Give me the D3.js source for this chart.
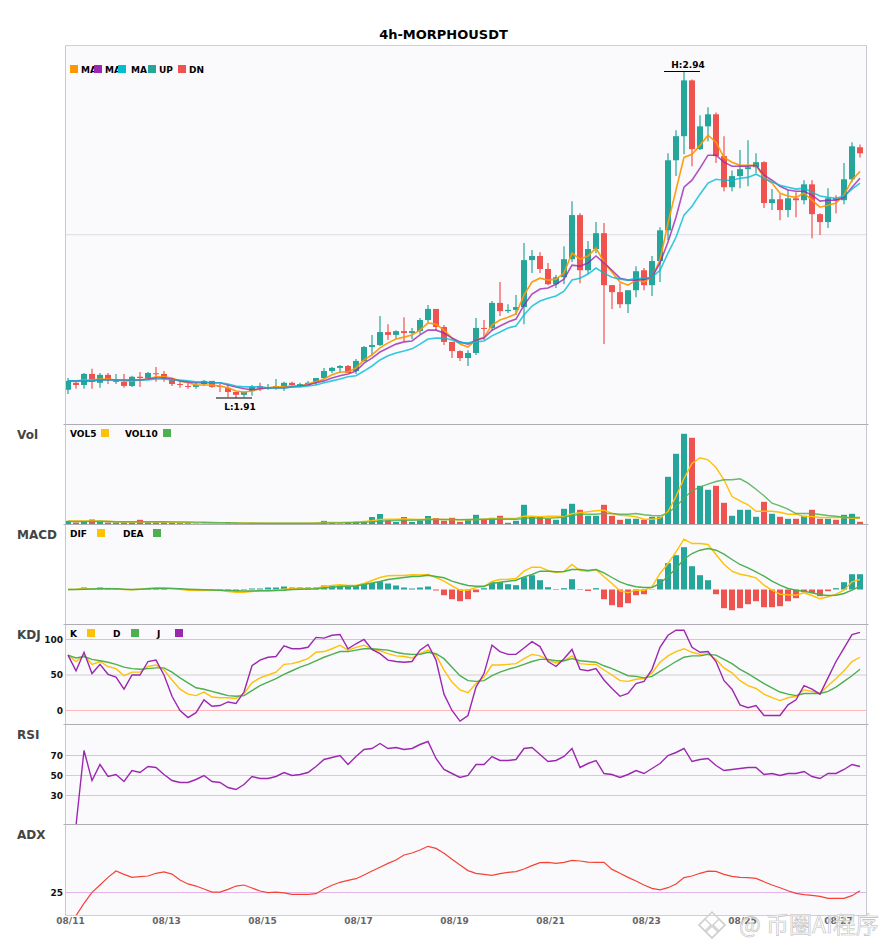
<!DOCTYPE html>
<html>
<head>
<meta charset="utf-8">
<script src="https://cdn.jsdelivr.net/npm/d3@7"></script>
<style>
  html, body { margin: 0; padding: 0; background: #fff; }
  text { font-family: "DejaVu Sans", sans-serif; }
</style>
</head>
<body>
<div id="scene"></div>
<script>
var title = "4h-MORPHOUSDT";
var tickBars = [0, 12, 24, 36, 48, 60, 72, 84, 96];
var tickDates = ["08/11", "08/13", "08/15", "08/17", "08/19", "08/21", "08/23", "08/25", "08/27"];

// open, high, low, close
var ohlc = [
  [1.936,1.973,1.923,1.964],[1.958,1.967,1.939,1.951],[1.951,1.989,1.939,1.986],[1.986,2.002,1.939,1.961],[1.958,1.989,1.942,1.983],
  [1.983,1.989,1.954,1.967],[1.961,1.986,1.954,1.964],[1.961,1.986,1.942,1.948],[1.948,1.980,1.945,1.977],[1.977,1.992,1.945,1.973],
  [1.973,1.992,1.970,1.989],[1.988,2.008,1.961,1.985],[1.986,1.995,1.961,1.970],[1.967,1.973,1.948,1.954],[1.954,1.961,1.942,1.951],
  [1.948,1.958,1.939,1.945],[1.945,1.958,1.939,1.951],[1.954,1.967,1.948,1.964],[1.964,1.964,1.942,1.945],[1.948,1.954,1.929,1.945],
  [1.942,1.954,1.912,1.929],[1.929,1.929,1.910,1.920],[1.920,1.929,1.912,1.929],[1.932,1.951,1.917,1.945],[1.948,1.958,1.932,1.942],
  [1.941,1.954,1.936,1.942],[1.942,1.970,1.936,1.948],[1.945,1.961,1.932,1.958],[1.958,1.961,1.945,1.951],[1.948,1.958,1.945,1.954],
  [1.951,1.964,1.948,1.958],[1.961,1.973,1.951,1.973],[1.973,2.005,1.970,1.995],[1.995,2.008,1.989,2.005],[2.005,2.014,1.989,2.011],
  [2.011,2.014,1.989,1.989],[1.995,2.033,1.986,2.027],[2.027,2.074,2.024,2.071],[2.071,2.109,2.043,2.077],[2.077,2.169,2.074,2.118],
  [2.118,2.143,2.093,2.109],[2.109,2.124,2.096,2.121],[2.121,2.165,2.090,2.115],[2.115,2.131,2.096,2.121],[2.121,2.162,2.112,2.156],
  [2.156,2.203,2.150,2.191],[2.191,2.191,2.124,2.134],[2.134,2.140,2.077,2.087],[2.087,2.087,2.036,2.058],[2.058,2.061,2.027,2.036],
  [2.036,2.061,2.011,2.052],[2.052,2.162,2.046,2.131],[2.131,2.156,2.093,2.128],[2.131,2.216,2.124,2.210],[2.210,2.276,2.169,2.184],
  [2.184,2.206,2.178,2.188],[2.188,2.235,2.172,2.197],[2.197,2.399,2.143,2.345],[2.345,2.377,2.304,2.358],[2.358,2.370,2.304,2.317],
  [2.317,2.336,2.266,2.269],[2.269,2.298,2.257,2.291],[2.291,2.389,2.269,2.348],[2.348,2.531,2.339,2.487],[2.487,2.493,2.272,2.313],
  [2.313,2.405,2.301,2.380],[2.380,2.465,2.367,2.430],[2.430,2.462,2.080,2.266],[2.266,2.266,2.191,2.244],[2.244,2.272,2.194,2.206],
  [2.206,2.250,2.178,2.250],[2.250,2.326,2.228,2.310],[2.313,2.320,2.250,2.266],[2.266,2.358,2.232,2.342],[2.342,2.449,2.276,2.439],
  [2.439,2.682,2.408,2.660],[2.660,2.755,2.610,2.736],[2.736,2.940,2.679,2.912],[2.912,2.915,2.641,2.695],[2.695,2.802,2.692,2.767],
  [2.767,2.827,2.720,2.805],[2.805,2.811,2.651,2.673],[2.673,2.736,2.562,2.575],[2.575,2.628,2.562,2.610],[2.610,2.692,2.572,2.632],
  [2.632,2.723,2.578,2.638],[2.638,2.682,2.619,2.654],[2.654,2.657,2.509,2.525],[2.525,2.569,2.503,2.537],[2.537,2.553,2.471,2.503],
  [2.503,2.566,2.480,2.540],[2.540,2.559,2.480,2.534],[2.534,2.597,2.521,2.584],[2.584,2.597,2.414,2.490],[2.490,2.493,2.424,2.465],
  [2.465,2.572,2.446,2.540],[2.540,2.550,2.493,2.534],[2.534,2.651,2.521,2.600],[2.600,2.717,2.591,2.704],[2.701,2.710,2.669,2.682]
];

var maFast = [
  1.964,1.964,1.967,1.967,1.970,1.970,1.967,1.964,1.964,1.967,
  1.970,1.977,1.977,1.973,1.964,1.958,1.951,1.951,1.951,1.948,
  1.942,1.932,1.929,1.932,1.939,1.942,1.945,1.945,1.948,1.948,
  1.954,1.961,1.970,1.983,1.992,1.992,2.005,2.030,2.046,2.068,
  2.084,2.096,2.102,2.109,2.124,2.147,2.143,2.124,2.099,2.080,
  2.071,2.093,2.102,2.140,2.156,2.165,2.175,2.235,2.276,2.288,
  2.282,2.285,2.304,2.367,2.348,2.358,2.383,2.339,2.307,2.276,
  2.266,2.282,2.276,2.291,2.345,2.462,2.566,2.669,2.679,2.707,
  2.739,2.717,2.669,2.654,2.644,2.644,2.644,2.606,2.588,2.556,
  2.547,2.543,2.556,2.534,2.512,2.518,2.525,2.550,2.597,2.625
];
var maMid = [
  1.964,1.964,1.964,1.964,1.967,1.967,1.967,1.967,1.967,1.967,
  1.970,1.973,1.973,1.970,1.964,1.961,1.958,1.958,1.958,1.958,
  1.951,1.945,1.939,1.936,1.939,1.942,1.942,1.942,1.945,1.948,
  1.951,1.958,1.964,1.973,1.980,1.986,1.995,2.020,2.036,2.055,
  2.068,2.080,2.087,2.090,2.109,2.124,2.124,2.115,2.099,2.087,
  2.080,2.093,2.099,2.124,2.137,2.150,2.159,2.203,2.238,2.254,
  2.257,2.269,2.285,2.329,2.326,2.336,2.358,2.336,2.313,2.288,
  2.282,2.282,2.285,2.291,2.336,2.402,2.480,2.575,2.597,2.635,
  2.676,2.676,2.654,2.641,2.641,2.641,2.644,2.613,2.597,2.578,
  2.566,2.562,2.562,2.550,2.531,2.534,2.534,2.543,2.575,2.603
];
var maSlow = [
  1.964,1.964,1.964,1.964,1.967,1.967,1.967,1.967,1.967,1.967,
  1.967,1.970,1.970,1.967,1.967,1.964,1.961,1.961,1.958,1.958,
  1.954,1.948,1.945,1.945,1.945,1.942,1.942,1.942,1.945,1.945,
  1.948,1.951,1.958,1.964,1.970,1.977,1.980,1.995,2.011,2.030,
  2.043,2.052,2.058,2.065,2.080,2.096,2.099,2.099,2.093,2.084,
  2.084,2.087,2.090,2.106,2.118,2.131,2.137,2.172,2.200,2.216,
  2.225,2.232,2.247,2.282,2.288,2.301,2.320,2.304,2.291,2.285,
  2.282,2.288,2.288,2.291,2.313,2.367,2.417,2.487,2.515,2.553,
  2.588,2.600,2.597,2.597,2.603,2.606,2.616,2.603,2.591,2.581,
  2.575,2.569,2.572,2.559,2.547,2.543,2.540,2.547,2.569,2.588
];

var volume = [
  3.7,2,3.5,5,3,2,2,2,2,4.7,
  2,2,2,2,1.5,1.5,1,1,1.5,1,
  2.5,1,1,1,1,1,1,1,1,1,
  1,1,3.6,2.5,1,1.5,3,3,7.5,10.5,
  4,2.5,7.5,2.5,4,8.5,6.5,3.7,6.7,2.7,
  4.7,9.7,4.7,6.7,8.7,1.7,3.7,19.7,7.7,7.7,
  5.7,4.7,15.7,20.7,14.7,8.7,8.7,19.7,8.7,4.7,
  5.7,5.7,4.7,7.7,7.7,47.7,70.7,90.7,86.7,38.7,
  34.7,38.7,21.7,8.7,14.7,14.7,7.7,22.7,10.7,7.7,
  5.7,5.7,8.7,14.7,5.7,5.7,4.7,9.7,10.7,2.7
];
var vol5 = [
  3.5,3.5,3.5,3.6,3.5,3.3,2.8,2.5,2.3,2.8,
  2.6,2.5,2.5,2.3,2,1.8,1.6,1.4,1.3,1.3,
  1.5,1.5,1.5,1.5,1.3,1.2,1.2,1.2,1.2,1.2,
  1.2,1.5,2,2,2,2.2,2.3,3,3.7,5,
  5.3,5.3,5.5,5.3,5,5.2,5.4,5,5,4.7,
  4.7,5,5.3,5.7,6,6,6,8.3,8.3,7.7,
  8.3,8.3,7.7,10.7,11.7,12.7,13.7,14.3,11,9.3,
  8.7,7.7,5.3,5.3,6.3,13,28,46,61,66.7,
  64.7,57,44.7,28,23.7,19.7,13.3,13.3,13.3,12.3,
  10.3,10.3,8,8,7,7,7,7.3,6.3,6.3
];
var vol10 = [
  3,3,3,3,3.2,3,2.8,2.8,2.8,2.8,
  2.7,2.7,2.7,2.6,2.6,2.5,2.4,2.2,2,1.9,
  1.7,1.5,1.4,1.3,1.3,1.3,1.2,1.2,1.2,1.2,
  1.2,1.3,1.5,1.6,1.6,1.7,1.8,2.2,2.6,3.2,
  3.8,4,4.2,4.3,4.5,4.8,5,5,5,4.7,
  5,5,5.2,5.2,5.5,5.3,5.3,6,6.7,6.3,
  6.3,6.7,7.3,9,10.3,10.3,10.3,11,11,10.3,
  10.3,11,9.7,9,8.7,11.3,18,26.3,34,37.3,
  40.3,43,44.7,44.7,45.7,41.3,35.3,28.7,21.3,18.7,
  15.3,11,11,11,10,9,8.3,7.3,7,7
];

var macdHist = [
  0,0.3,2,0.3,2,0.7,0.5,-0.3,-0.3,0.3,
  1,0.7,0.7,0,-0.3,-0.5,-0.5,-0.3,-1,-1,
  -2,-2,-0.5,1,1,2,2,3,2,2,
  2,2,4,4,4,2.5,3.5,6,6.5,8,
  6,4,2,1,2,3,-1,-5.7,-9.7,-11.7,
  -9.7,-2.7,1.3,7.3,7.3,5.3,4.3,12.3,14.3,9.3,
  2.3,-0.5,1.3,10.3,-0.5,-1.5,1.3,-9.7,-15.7,-17.7,
  -13.7,-5.7,-4.7,0.3,10.3,26.3,34.3,42.3,23.3,14.3,
  9.3,-4.7,-18.7,-20.7,-18.7,-14.7,-11.7,-17.7,-17.7,-16.7,
  -11.7,-8.7,-2.7,-3.7,-6.7,-1.7,1.3,7.3,15.3,15.3
];
var dif = [
  0,0.3,1,0.3,1,1,0.7,0,-0.3,0.3,
  1,1.7,1.7,1,0.3,-0.7,-1,-1,-0.7,-0.7,
  -2,-2.7,-2.7,-2,-1.3,-1.3,-0.7,0.3,0.7,1,
  0.7,1,3,4,4.7,4,4,6,9,12,
  13.7,14,14,14.7,14.5,15,12,8.3,3.7,-0.7,
  -0.7,2,2.7,8,10,10.3,11,18.3,22.3,22.3,
  19,17,18,25,19,18.3,20,12.7,6,-1.3,
  -3.3,-0.7,-1,2.7,16,26,37.7,50.3,46,46,
  45,35,25.3,18.3,15.3,13.7,11.7,4.3,-0.7,-4.7,
  -5.3,-5.7,-3.3,-6,-9.3,-7.3,-4.7,-0.7,7.7,10
];
var dea = [
  0,0,0.3,0.5,0.7,0.7,0.7,0.3,0,0.3,
  0.7,1,1,1,0.7,0.3,0,-0.3,-0.5,-0.7,
  -1,-1.3,-1.5,-1.5,-1.3,-1.3,-1,-0.7,0,0.3,
  0.5,0.7,1.5,2.3,3,3.2,3.5,5,6.5,8,
  10,11,12,13,13.3,14.3,13,11.7,8.3,6,
  4,3.3,3.3,6,7.3,8.3,9.3,12.7,15,18.3,
  18.3,17.7,18,20,20,19,20,16.7,12,7.7,
  4.7,2.7,2,2,6,13.3,21,30.3,36,39.3,
  41,39.3,35.3,30,25,21.7,17.7,13.3,8.3,4.3,
  1,-0.7,-1.7,-3.3,-5.3,-6,-5.7,-4,-0.7,3.3
];

var kLine = [
  78,69,78,65,69,62,59,49,54,54,
  62,64,57,43,30,23,21,26,19,18,
  18,17,24,39,46,50,54,65,66,69,
  73,82,83,87,92,85,89,92,86,84,
  80,77,76,74,80,85,78,57,40,29,
  25,38,47,64,64,65,66,73,79,77,
  71,67,70,77,66,65,65,57,50,42,
  41,44,45,53,68,77,83,87,82,79,
  80,72,60,53,42,35,31,23,18,14,
  18,20,29,27,24,35,45,56,69,75
];
var dLine = [
  78,74,76,72,70,68,65,61,59,58,
  59,60,60,54,46,39,32,30,27,24,
  21,20,21,28,35,40,45,51,56,61,
  65,70,75,79,83,83,85,87,87,86,
  85,82,80,79,79,82,80,73,61,49,
  42,41,42,49,54,58,61,65,69,72,
  72,70,70,73,70,69,68,63,59,54,
  49,48,46,48,55,62,69,75,77,77,
  79,78,72,66,58,52,45,38,32,26,
  23,21,24,24,24,27,33,41,49,58
];
var jLine = [
  78,56,82,52,65,51,47,30,50,50,
  69,71,50,20,0,-10,-3,15,6,7,
  12,10,26,63,71,75,76,91,87,87,
  89,103,102,106,107,87,94,100,86,80,
  71,69,68,69,85,93,71,23,0,-15,
  -7,33,52,92,83,79,79,88,97,90,
  69,62,73,86,58,56,59,43,31,20,
  24,38,41,58,89,106,113,113,89,82,
  83,69,42,30,8,4,7,-7,-7,-7,
  8,15,35,30,23,46,69,88,107,110
];
var rsi = [
  0,0,75,45,61,49,51,44,55,53,
  59,58,51,45,43,43,46,50,44,43,
  38,36,41,49,47,47,49,53,50,51,
  53,59,66,68,70,61,69,76,77,82,
  77,78,76,77,81,84,67,56,52,48,
  50,61,61,69,65,65,66,77,78,71,
  64,65,69,77,58,62,65,52,51,48,
  51,55,52,57,62,70,73,77,64,66,
  67,60,55,56,57,58,58,51,52,50,
  52,52,54,49,47,52,52,56,61,59
];
var adx = [
  6.7,9.6,17.8,25.1,30,35.1,39.3,37.1,35.1,35.6,
  36,37.8,38.7,37.3,33.3,30.7,29.3,27.3,25.3,25.3,
  27.1,29.3,30,28,26,24.9,25.3,24.7,23.8,23.8,
  23.8,24.2,27.3,29.8,31.8,33.1,34.2,36.7,39.3,41.8,
  44.4,46.7,50,51.3,53.3,55.8,54.4,51.1,47.1,43.3,
  39.6,37.8,37.1,36.4,37.6,38.4,38.9,40.7,42.9,44.9,
  45.1,44.4,45.1,46.4,46,45.3,45.1,45.1,40.4,37.8,
  35.1,32.7,30,27.8,26.7,28.2,30.7,34.9,36,37.8,
  39.3,39.1,37.1,35.8,35.1,34.9,34.4,32.2,30,28.2,
  26.2,24.4,23.6,23.1,22.4,21.1,21.1,21.1,22.9,26.2
];

var colors = {
  up: "#26a69a", dn: "#ef5350",
  maFast: "#ff9800", maMid: "#9c27b0", maSlow: "#00bcd4",
  yellow: "#ffc107", green: "#4caf50", purple: "#9c27b0", adx: "#f44336"
};

var W = 885, H = 950, left = 65.5, right = 866.5;

var svg = d3.select("#scene").append("svg")
  .attr("width", W).attr("height", H)
  .style("display", "block");

var x = d3.scaleLinear().domain([0, ohlc.length - 1]).range([68, 860]);

// panels, top to bottom
var panels = [
  { id: "main", top: 45.5, bottom: 424.5, label: "" },
  { id: "vol", top: 424.5, bottom: 524.5, label: "Vol" },
  { id: "macd", top: 524.5, bottom: 624.5, label: "MACD" },
  { id: "kdj", top: 624.5, bottom: 724.5, label: "KDJ" },
  { id: "rsi", top: 724.5, bottom: 824.5, label: "RSI" },
  { id: "adx", top: 824.5, bottom: 915.5, label: "ADX" }
];

var yMain = d3.scaleLinear().domain([1.91, 2.94]).range([398, 71.5]);
var yVol = d3.scaleLinear().domain([0, 100]).range([524.5, 424.5]);
var yMacd = d3.scaleLinear().domain([-35, 65]).range([624.5, 524.5]);
var yKdj = d3.scaleLinear().domain([0, 100]).range([710.5, 639.5]);
var yRsi = d3.scaleLinear().domain([30, 70]).range([795.5, 755.5]);
var yAdx = d3.scaleLinear().domain([10, 70]).range([915, 825]);

var defs = svg.append("defs");
var layers = {};
panels.forEach(function(p) {
  svg.append("rect")
    .attr("x", left).attr("y", p.top)
    .attr("width", right - left).attr("height", p.bottom - p.top)
    .attr("fill", "#fafafc");
  defs.append("clipPath").attr("id", "clip-" + p.id)
    .append("rect")
    .attr("x", left).attr("y", p.top)
    .attr("width", right - left).attr("height", p.bottom - p.top);
  layers[p.id] = svg.append("g").attr("clip-path", "url(#clip-" + p.id + ")");
  if (p.label) {
    svg.append("text")
      .attr("x", 17).attr("y", p.top + 14)
      .attr("font-size", 12).attr("font-weight", "bold")
      .attr("fill", "#444").text(p.label);
  }
});

function drawLevel(layer, y, value, color) {
  layer.append("line")
    .attr("x1", left).attr("x2", right)
    .attr("y1", y(value)).attr("y2", y(value))
    .attr("stroke", color).attr("stroke-width", 1);
}

function drawLine(layer, values, y, color, width, opacity) {
  var line = d3.line()
    .x(function(d, i) { return x(i); })
    .y(function(d) { return y(d); });
  layer.append("path")
    .attr("d", line(values))
    .attr("fill", "none")
    .attr("stroke", color)
    .attr("stroke-width", width || 1.4)
    .attr("stroke-opacity", opacity || 1);
}

// Main candles
drawLevel(layers.main, yMain, 2.425, "#dddbe5");
ohlc.forEach(function(d, i) {
  var color = d[3] >= d[0] ? colors.up : colors.dn;
  layers.main.append("line")
    .attr("x1", x(i)).attr("x2", x(i))
    .attr("y1", yMain(d[1])).attr("y2", yMain(d[2]))
    .attr("stroke", color).attr("stroke-width", 1.2);
  var top = yMain(Math.max(d[0], d[3]));
  var bottom = yMain(Math.min(d[0], d[3]));
  layers.main.append("rect")
    .attr("x", x(i) - 3).attr("y", top)
    .attr("width", 6).attr("height", Math.max(1, bottom - top))
    .attr("fill", color);
});
drawLine(layers.main, maFast, yMain, colors.maFast, 1.6, 0.95);
drawLine(layers.main, maMid, yMain, colors.maMid, 1.6, 0.8);
drawLine(layers.main, maSlow, yMain, colors.maSlow, 1.6, 0.8);

// High and low markers
var highBar = d3.greatestIndex(ohlc, function(d) { return d[1]; });
var lowBar = d3.leastIndex(ohlc, function(d) { return d[2]; });
[
  { bar: highBar, price: ohlc[highBar][1], text: "H:", dy: -3.5 },
  { bar: lowBar, price: ohlc[lowBar][2], text: "L:", dy: 12 }
].forEach(function(m) {
  svg.append("line")
    .attr("x1", x(m.bar) - 20).attr("x2", x(m.bar) + 16)
    .attr("y1", yMain(m.price)).attr("y2", yMain(m.price))
    .attr("stroke", "#000").attr("stroke-width", 1.2);
  svg.append("text")
    .attr("x", x(m.bar) + 4).attr("y", yMain(m.price) + m.dy)
    .attr("text-anchor", "middle")
    .attr("font-size", 9).attr("font-weight", "bold")
    .text(m.text + m.price.toFixed(2));
});

// Volume
volume.forEach(function(v, i) {
  var d = ohlc[i];
  layers.vol.append("rect")
    .attr("x", x(i) - 3).attr("y", yVol(v))
    .attr("width", 6).attr("height", yVol(0) - yVol(v))
    .attr("fill", d[3] >= d[0] ? colors.up : colors.dn);
});
drawLine(layers.vol, vol5, yVol, colors.yellow);
drawLine(layers.vol, vol10, yVol, colors.green, 1.4, 0.85);

// MACD
macdHist.forEach(function(v, i) {
  layers.macd.append("rect")
    .attr("x", x(i) - 3).attr("y", yMacd(Math.max(v, 0)))
    .attr("width", 6).attr("height", Math.abs(yMacd(v) - yMacd(0)))
    .attr("fill", v >= 0 ? colors.up : colors.dn);
});
drawLine(layers.macd, dif, yMacd, colors.yellow);
drawLine(layers.macd, dea, yMacd, colors.green);

// KDJ
drawLevel(layers.kdj, yKdj, 100, "#a8dcd6");
drawLevel(layers.kdj, yKdj, 50, "#cfcfcf");
drawLevel(layers.kdj, yKdj, 0, "#ffb9b9");
drawLine(layers.kdj, kLine, yKdj, colors.yellow);
drawLine(layers.kdj, dLine, yKdj, colors.green);
drawLine(layers.kdj, jLine, yKdj, colors.purple);

// RSI
drawLevel(layers.rsi, yRsi, 70, "#a8dcd6");
drawLevel(layers.rsi, yRsi, 50, "#cfcfcf");
drawLevel(layers.rsi, yRsi, 30, "#ffb9b9");
drawLine(layers.rsi, rsi, yRsi, colors.purple);

// ADX
drawLevel(layers.adx, yAdx, 25, "#e3b5ea");
drawLine(layers.adx, adx, yAdx, colors.adx, 1.2);

// Panel borders
panels.forEach(function(p, n) {
  svg.append("line")
    .attr("x1", left - (n === 0 ? 0 : 2)).attr("x2", right + (n === 0 ? 0 : 2))
    .attr("y1", p.top).attr("y2", p.top)
    .attr("stroke", n === 0 ? "#cfcfd8" : "#adadb3");
  [left, right].forEach(function(xp) {
    svg.append("line")
      .attr("x1", xp).attr("x2", xp)
      .attr("y1", p.top).attr("y2", p.bottom)
      .attr("stroke", "#c8c8d0");
  });
});
svg.append("line")
  .attr("x1", left).attr("x2", right)
  .attr("y1", 915.5).attr("y2", 915.5)
  .attr("stroke", "#cfcfd8");

// Axes
function leftAxis(y, values) {
  var g = svg.append("g")
    .attr("transform", "translate(64,0)")
    .call(d3.axisLeft(y).tickValues(values).tickSize(0).tickPadding(1));
  g.select(".domain").remove();
  g.selectAll("text")
    .attr("font-family", "DejaVu Sans")
    .attr("font-size", 9).attr("font-weight", "bold")
    .attr("fill", "#111");
}
leftAxis(yKdj, [0, 50, 100]);
leftAxis(yRsi, [30, 50, 70]);
leftAxis(yAdx, [25]);

var xAxis = svg.append("g")
  .attr("transform", "translate(2,915)")
  .call(d3.axisBottom(x)
    .tickValues(tickBars)
    .tickFormat(function(d, i) { return tickDates[i]; })
    .tickSize(0).tickPadding(3));
xAxis.select(".domain").remove();
xAxis.selectAll("text")
  .attr("font-family", "DejaVu Sans")
  .attr("font-size", 9).attr("font-weight", "bold")
  .attr("fill", "#666");

// Legends
function legend(items, y) {
  items.forEach(function(it) {
    svg.append("rect")
      .attr("x", it.box).attr("y", y)
      .attr("width", 8).attr("height", 8)
      .attr("fill", it.color);
    svg.append("text")
      .attr("x", it.text).attr("y", y + 7.5)
      .attr("font-size", 9).attr("font-weight", "bold")
      .text(it.name);
  });
}
legend([
  { name: "MA", box: 70, text: 81, color: colors.maFast },
  { name: "MA", box: 94, text: 105, color: colors.maMid },
  { name: "MA", box: 118, text: 131, color: colors.maSlow },
  { name: "UP", box: 148, text: 159, color: colors.up },
  { name: "DN", box: 178, text: 189, color: colors.dn }
], 65);
legend([
  { name: "VOL5", box: 101, text: 70, color: colors.yellow },
  { name: "VOL10", box: 163, text: 125, color: colors.green }
], 429);
legend([
  { name: "DIF", box: 97, text: 70, color: colors.yellow },
  { name: "DEA", box: 153, text: 123, color: colors.green }
], 529);
legend([
  { name: "K", box: 87, text: 70, color: colors.yellow },
  { name: "D", box: 131, text: 113, color: colors.green },
  { name: "J", box: 175, text: 157, color: colors.purple }
], 629);

// Title
svg.append("text")
  .attr("x", 443.5).attr("y", 39)
  .attr("text-anchor", "middle")
  .attr("font-size", 13).attr("font-weight", "bold")
  .text(title);

// Watermark
var mark = svg.append("g").attr("fill", "none").attr("stroke", "#cfcfcf").attr("stroke-width", 1.4);
[[712, 925, 13], [705, 925, 6], [719, 925, 6], [712, 932, 6]].forEach(function(c) {
  mark.append("path")
    .attr("d", "M" + c[0] + "," + (c[1] - c[2]) + "L" + (c[0] + c[2]) + "," + c[1] +
      "L" + c[0] + "," + (c[1] + c[2]) + "L" + (c[0] - c[2]) + "," + c[1] + "Z");
});
svg.append("text")
  .attr("x", 739).attr("y", 933)
  .style("font-family", "'Noto Sans CJK SC'")
  .attr("font-size", 23)
  .attr("fill", "#ffffff").attr("fill-opacity", 0.7)
  .attr("stroke", "#bdbdbd").attr("stroke-width", 0.6)
  .text("@ 币圈AI程序");
</script>
</body>
</html>
